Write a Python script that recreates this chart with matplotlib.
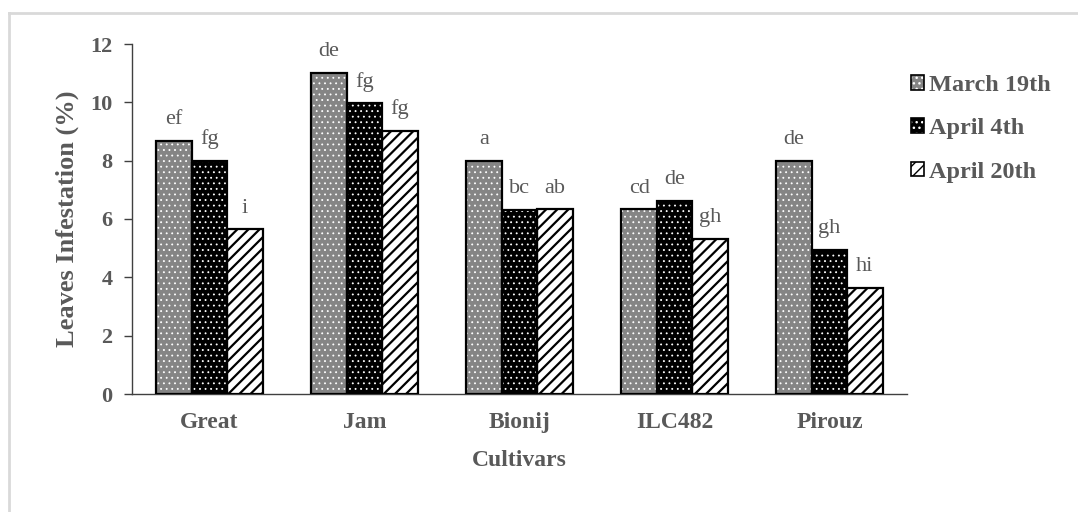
import numpy as np
import matplotlib
matplotlib.use("Agg")
import matplotlib.pyplot as plt
import matplotlib.patches as mpatches
from matplotlib.lines import Line2D

cultivars = ["Great", "Jam", "Bionij", "ILC482", "Pirouz"]
dates = ["March 19th", "April 4th", "April 20th"]

march_19 = [8.67, 11.0, 8.0, 6.33, 8.0]
april_4 = [8.0, 9.97, 6.31, 6.62, 4.94]
april_20 = [5.65, 9.03, 6.33, 5.33, 3.65]

letters_march = ["ef", "de", "a", "cd", "de"]
letters_apr4 = ["fg", "fg", "bc", "de", "gh"]
letters_apr20 = ["i", "fg", "ab", "gh", "hi"]

yticks = [0, 2, 4, 6, 8, 10, 12]

TXT = "#595959"
plt.rcParams["font.family"] = ["Liberation Serif", "DejaVu Serif"]

fig = plt.figure(figsize=(10.78, 5.12), dpi=100)
ax = fig.add_axes([132 / 1078, 118 / 512, 775 / 1078, 350 / 512])

x = np.arange(len(cultivars))
w = 0.228

# (face, hatch colour, hatch, hatch linewidth)
styles = [
    ("#858585", "white", "...", 0.6),
    ("black", "white", "...", 0.6),
    ("white", "black", "///", 1.6),
]
series = [march_19, april_4, april_20]
letters = [letters_march, letters_apr4, letters_apr20]

handles = []
for i, (vals, (face, hc, hatch, hlw)) in enumerate(zip(series, styles)):
    pos = x + (i - 1) * w
    with plt.rc_context({"hatch.linewidth": hlw}):
        ax.bar(pos, vals, w, color=face, edgecolor=hc, hatch=hatch,
               linewidth=0, zorder=2)
    ax.bar(pos, vals, w, fill=False, edgecolor="black", linewidth=1.6, zorder=3)
    for p, v, lab in zip(pos, vals, letters[i]):
        ax.annotate(lab, (p, v), xytext=(0, 12), textcoords="offset points",
                    ha="center", va="baseline", fontsize=16, color=TXT)
    with plt.rc_context({"hatch.linewidth": hlw}):
        h1 = mpatches.Patch(facecolor=face, edgecolor=hc, hatch=hatch, linewidth=0)
    h2 = mpatches.Patch(fill=False, edgecolor="black", linewidth=1.2)
    handles.append((h1, h2))

ax.set_xlim(-0.5, len(cultivars) - 0.5)
ax.set_ylim(0, 12)
ax.set_yticks(yticks)
ax.set_yticklabels([str(t) for t in yticks], fontsize=16, fontweight="bold", color=TXT)
ax.set_xticks(x)
ax.set_xticklabels(cultivars, fontsize=17, fontweight="bold", color=TXT)
ax.tick_params(axis="x", length=0, pad=13)
ax.tick_params(axis="y", direction="out", length=6, width=1, color="#404040", pad=8)
for s in ["top", "right"]:
    ax.spines[s].set_visible(False)
for s in ["left", "bottom"]:
    ax.spines[s].set_color("#404040")
    ax.spines[s].set_linewidth(1)

fig.text(519.5 / 1078, 1 - 460 / 512, "Cultivars", ha="center", va="center",
         fontsize=17, fontweight="bold", color=TXT)
fig.text(67 / 1078, 1 - 219 / 512, "Leaves Infestation (%)", ha="center", va="center",
         rotation=90, fontsize=19, fontweight="bold", color=TXT)

fig.legend(handles, dates, loc="upper left", bbox_to_anchor=(911 / 1078, 1 - 75 / 512),
           frameon=False, handlelength=0.55, handleheight=0.55, handletextpad=0.2,
           labelspacing=0.92, borderpad=0, borderaxespad=0,
           prop={"size": 17.5, "weight": "bold"}, labelcolor=TXT)

# light frame lines of the original picture
fig.add_artist(Line2D([9 / 1078, 1], [1 - 13 / 512, 1 - 13 / 512], color="#d9d9d9", lw=2,
                      transform=fig.transFigure))
fig.add_artist(Line2D([9 / 1078, 9 / 1078], [0, 1 - 13 / 512], color="#d9d9d9", lw=2,
                      transform=fig.transFigure))

fig.savefig("out.png", dpi=100, facecolor="white")
